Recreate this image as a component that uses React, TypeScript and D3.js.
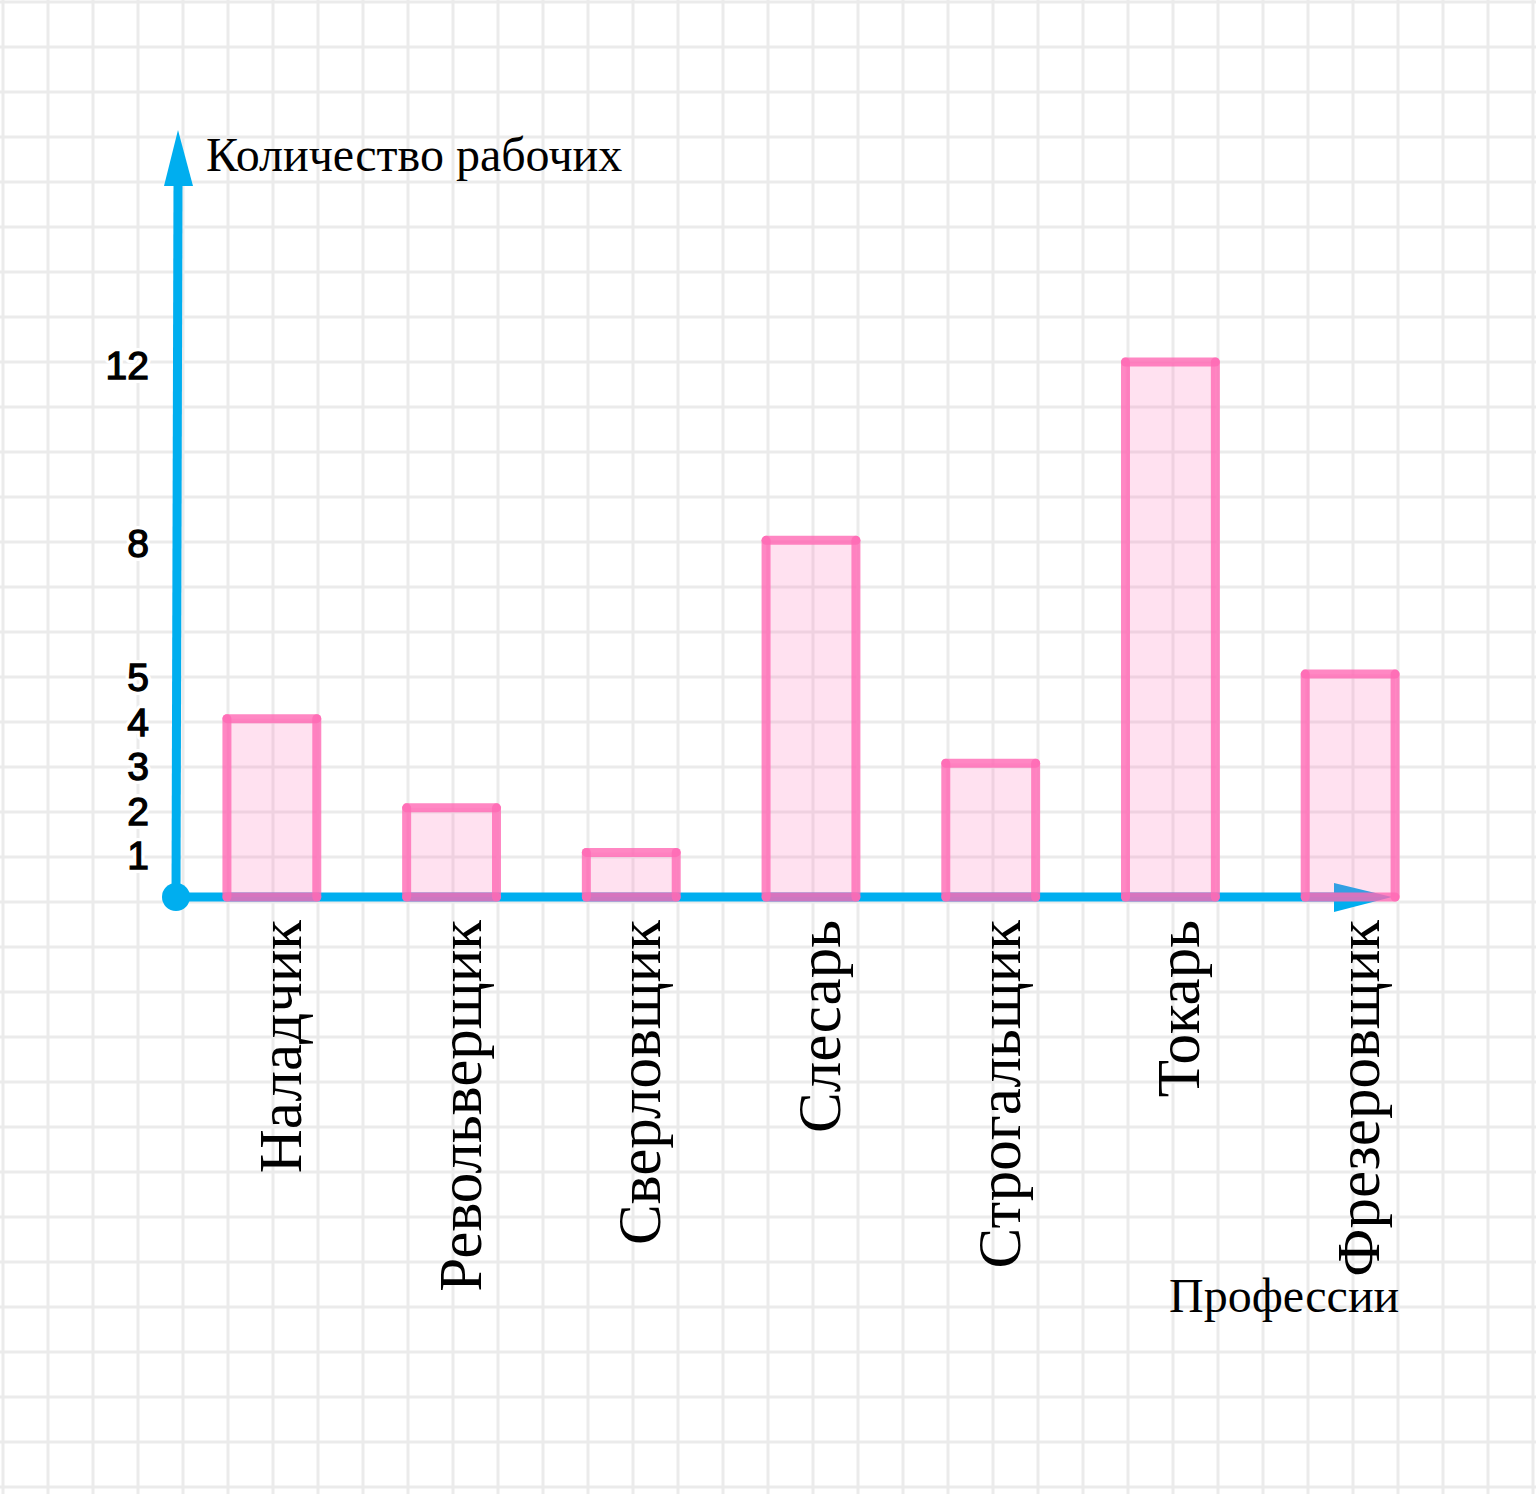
import React from "react";
import * as d3 from "d3";

const professions = ["Наладчик", "Револьверщик", "Сверловщик", "Слесарь", "Строгальщик", "Токарь", "Фрезеровщик"];
const workers = [4, 2, 1, 8, 3, 12, 5];
const yTicks = [1, 2, 3, 4, 5, 8, 12];
const yTitle = "Количество рабочих";
const xTitle = "Профессии";

const W = 1536;
const H = 1494;
const BLUE = "#00aeef";
const PINK = "#ff69b4";

export default function App() {
  const x = d3.scaleBand<string>().domain(professions).range([182, 1440]).paddingInner(0.5).paddingOuter(0.25);
  const y = d3.scaleLinear().domain([0, 12]).range([897, 362]);
  const y0 = y(0);
  const ox = 176;

  const gridX = d3.range(3, W + 1, 45);
  const gridY = d3.range(2, H + 1, 45);

  return (
    <svg width={W} height={H} style={{ position: "absolute", left: 0, top: 0, display: "block", background: "#fff" }}>
      <rect x={0} y={0} width={W} height={H} fill="#fff" />
      <g stroke="#ebebeb" strokeWidth={3}>
        {gridX.map((gx) => (
          <line key={"gx" + gx} x1={gx} x2={gx} y1={0} y2={H} />
        ))}
        {gridY.map((gy) => (
          <line key={"gy" + gy} x1={0} x2={W} y1={gy} y2={gy} />
        ))}
      </g>

      {/* axes */}
      <line x1={ox} y1={y0} x2={178} y2={180} stroke={BLUE} strokeWidth={9} />
      <path d={`M178,130 L164,186 L193,186 Z`} fill={BLUE} />
      <line x1={ox} y1={y0} x2={1340} y2={y0} stroke={BLUE} strokeWidth={9} />
      <path d={`M1392,${y0} L1334,${y0 - 14} L1334,${y0 + 15} Z`} fill={BLUE} />
      <circle cx={ox} cy={y0} r={14} fill={BLUE} />

      {/* bars */}
      {professions.map((p, i) => {
        const x0 = x(p)!;
        const x1 = x0 + x.bandwidth();
        const yt = y(workers[i]);
        const segs = [
          [x0, y0, x0, yt],
          [x0, yt, x1, yt],
          [x1, yt, x1, y0],
          [x1, y0, x0, y0],
        ];
        return (
          <g key={p}>
            <rect x={x0} y={yt} width={x1 - x0} height={y0 - yt} fill={PINK} fillOpacity={0.2} />
            {segs.map((s, j) => (
              <line
                key={j}
                x1={s[0]}
                y1={s[1]}
                x2={s[2]}
                y2={s[3]}
                stroke={PINK}
                strokeOpacity={0.8}
                strokeWidth={9}
                strokeLinecap="round"
              />
            ))}
          </g>
        );
      })}

      {/* y tick labels */}
      {yTicks.map((t) => (
        <g key={t} fontFamily="'Liberation Sans', Arial, Helvetica, sans-serif" fontSize={39} textAnchor="end">
          <text x={149} y={y(t) + 17} fill="#fff" stroke="#fff" strokeWidth={8} strokeLinejoin="round">
            {t}
          </text>
          <text x={149} y={y(t) + 17} fill="#000" stroke="#000" strokeWidth={1.3}>
            {t}
          </text>
        </g>
      ))}

      {/* x labels */}
      {professions.map((p) => {
        const cx = x(p)! + x.bandwidth() / 2 + 29;
        return (
          <text
            key={"l" + p}
            transform={`translate(${cx},920) rotate(-90)`}
            textAnchor="end"
            fontFamily="'Liberation Serif', 'Times New Roman', serif"
            fontSize={61}
            fill="#000"
          >
            {p}
          </text>
        );
      })}

      <text x={206} y={171} fontFamily="'Liberation Serif', 'Times New Roman', serif" fontSize={48} fill="#000">
        {yTitle}
      </text>
      <text x={1169} y={1312} fontFamily="'Liberation Serif', 'Times New Roman', serif" fontSize={48} fill="#000">
        {xTitle}
      </text>
    </svg>
  );
}
